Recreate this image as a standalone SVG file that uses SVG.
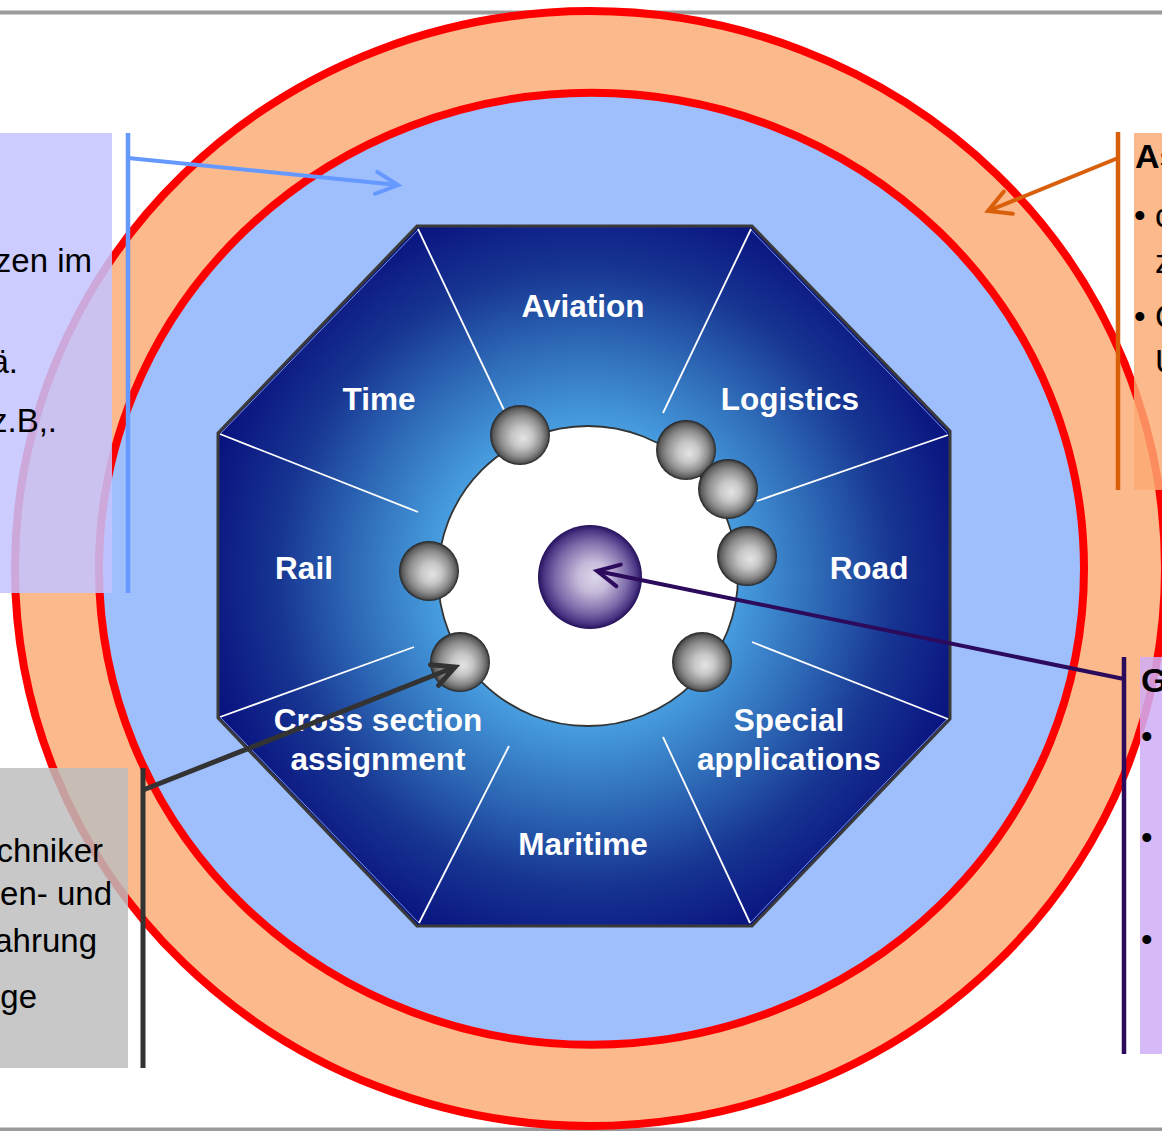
<svg xmlns="http://www.w3.org/2000/svg" width="1162" height="1131" viewBox="0 0 1162 1131">
<style>
.lbl{font-family:"Liberation Sans",Arial,sans-serif;font-weight:bold;font-size:31.5px;fill:#ffffff;text-anchor:middle}
.txt{font-family:"Liberation Sans",Arial,sans-serif;font-size:33px;fill:#000000}
.hd{font-family:"Liberation Sans",Arial,sans-serif;font-size:34px;font-weight:bold;fill:#000000}
.div{stroke:#ffffff;stroke-width:1.8;fill:none}
.ball{fill:url(#gBall)}
.conn{fill:none;stroke-linecap:butt}
</style>
<defs>
<radialGradient id="gOct" gradientUnits="userSpaceOnUse" cx="586" cy="576" r="395">
<stop offset="0" stop-color="#5aaee8"/>
<stop offset="0.38" stop-color="#479ddf"/>
<stop offset="0.58" stop-color="#2f6cb8"/>
<stop offset="0.78" stop-color="#173592"/>
<stop offset="1" stop-color="#08107e"/>
</radialGradient>
<radialGradient id="gBall" cx="0.5" cy="0.5" r="0.5" fx="0.56" fy="0.56">
<stop offset="0" stop-color="#e4e4e4"/>
<stop offset="0.35" stop-color="#c6c6c6"/>
<stop offset="0.7" stop-color="#8c8c8c"/>
<stop offset="0.9" stop-color="#5c5c5c"/>
<stop offset="1" stop-color="#222222"/>
</radialGradient>
<radialGradient id="gCore" cx="0.5" cy="0.5" r="0.5" fx="0.55" fy="0.5">
<stop offset="0" stop-color="#dcd6ea"/>
<stop offset="0.3" stop-color="#c6bada"/>
<stop offset="0.7" stop-color="#7a68a8"/>
<stop offset="0.9" stop-color="#483482"/>
<stop offset="1" stop-color="#24105a"/>
</radialGradient>
<marker id="aBlue" markerUnits="userSpaceOnUse" orient="auto" overflow="visible" markerWidth="1" markerHeight="1" refX="0" refY="0">
<path d="M-22,-11 L0,0 L-22,11" fill="none" stroke="#6699ff" stroke-width="4" stroke-linecap="round"/>
</marker>
<marker id="aOrange" markerUnits="userSpaceOnUse" orient="auto" overflow="visible" markerWidth="1" markerHeight="1" refX="0" refY="0">
<path d="M-22,-12 L0,0 L-22,12" fill="none" stroke="#d95f0a" stroke-width="4" stroke-linecap="round"/>
</marker>
<marker id="aPurple" markerUnits="userSpaceOnUse" orient="auto" overflow="visible" markerWidth="1" markerHeight="1" refX="0" refY="0">
<path d="M-22,-11 L0,0 L-22,11" fill="none" stroke="#2c0a5c" stroke-width="4" stroke-linecap="round"/>
</marker>
<marker id="aGray" markerUnits="userSpaceOnUse" orient="auto" overflow="visible" markerWidth="1" markerHeight="1" refX="0" refY="0">
<path d="M-22,-11 L0,0 L-22,11" fill="none" stroke="#333333" stroke-width="5" stroke-linecap="round"/>
</marker>
</defs>
<rect width="1162" height="1131" fill="#ffffff"/>
<g id="frame">
<rect x="0" y="10.5" width="1162" height="4" fill="#9a9a9a"/>
<rect x="0" y="1127.5" width="1162" height="4" fill="#9a9a9a"/>
</g>
<g id="rings">
<ellipse id="outer-ring" cx="590" cy="568.5" rx="575" ry="557.5" fill="#fcb98b" stroke="#ff0000" stroke-width="8"/>
<ellipse id="inner-ring" cx="591.5" cy="568.75" rx="492.5" ry="476" fill="#9fbffc" stroke="#ff0000" stroke-width="8"/>
</g>
<g id="octagon">
<polygon points="417,226 752,226 950,431 950,719 752,926 417,926 218,718 218,433" fill="url(#gOct)" stroke="#3a3a3a" stroke-width="3" stroke-linejoin="miter"/>
<polyline points="221,433 419,229" fill="none" stroke="#a8c4ff" stroke-width="1" opacity="0.7"/>
<polyline points="750,229 947,433" fill="none" stroke="#a8c4ff" stroke-width="1" opacity="0.7"/>
<polyline points="221,718 419,923" fill="none" stroke="#a8c4ff" stroke-width="1" opacity="0.7"/>
<polyline points="947,719 750,923" fill="none" stroke="#a8c4ff" stroke-width="1" opacity="0.7"/>
<line class="div" x1="418" y1="229" x2="504" y2="410"/>
<line class="div" x1="751" y1="229" x2="663" y2="413"/>
<line class="div" x1="948" y1="435" x2="757" y2="501"/>
<line class="div" x1="220" y1="434" x2="418" y2="512"/>
<line class="div" x1="220" y1="717" x2="414" y2="647"/>
<line class="div" x1="948" y1="719" x2="752" y2="642"/>
<line class="div" x1="419" y1="923" x2="509" y2="746"/>
<line class="div" x1="750" y1="923" x2="663" y2="737"/>
</g>
<g id="sector-aviation"><text class="lbl" x="583" y="317">Aviation</text></g>
<g id="sector-time"><text class="lbl" x="379" y="410">Time</text></g>
<g id="sector-logistics"><text class="lbl" x="790" y="410">Logistics</text></g>
<g id="sector-rail"><text class="lbl" x="304" y="579">Rail</text></g>
<g id="sector-road"><text class="lbl" x="869" y="579">Road</text></g>
<g id="sector-cross-section"><text class="lbl" x="378" y="731">Cross section</text><text class="lbl" x="378" y="770">assignment</text></g>
<g id="sector-special"><text class="lbl" x="789" y="731">Special</text><text class="lbl" x="789" y="770">applications</text></g>
<g id="sector-maritime"><text class="lbl" x="583" y="855">Maritime</text></g>
<g id="hub">
<circle cx="588" cy="576" r="150" fill="#ffffff" stroke="#333333" stroke-width="1.8"/>
</g>
<g id="core"><circle cx="590" cy="577" r="52" fill="url(#gCore)"/></g>
<g id="ball-1"><circle class="ball" cx="520" cy="435" r="30"/></g>
<g id="ball-2"><circle class="ball" cx="686" cy="450" r="30"/></g>
<g id="ball-3"><circle class="ball" cx="728" cy="489" r="30"/></g>
<g id="ball-4"><circle class="ball" cx="747" cy="556" r="30"/></g>
<g id="ball-5"><circle class="ball" cx="429" cy="571" r="30"/></g>
<g id="ball-6"><circle class="ball" cx="460" cy="662" r="30"/></g>
<g id="ball-7"><circle class="ball" cx="702" cy="662" r="30"/></g>
<g id="box-left-top">
<rect x="0" y="133" width="112" height="460" fill="#c4c4ff" opacity="0.86"/>
<text class="txt" x="92" y="272" text-anchor="end">zen im</text>
<text class="txt" x="18" y="373" text-anchor="end">ä.</text>
<text class="txt" x="57" y="432" text-anchor="end">z.B,.</text>
</g>
<g id="box-right-top">
<rect x="1134" y="133" width="28" height="357" fill="#fbab73" opacity="0.82"/>
<text class="hd" x="1135" y="168">As</text>
<text class="txt" x="1134" y="227">•</text>
<text class="txt" x="1155" y="227">c</text>
<text class="txt" x="1155" y="273">z</text>
<text class="txt" x="1134" y="328">•</text>
<text class="txt" x="1155" y="328">C</text>
<text class="txt" x="1155" y="373">U</text>
</g>
<g id="box-right-bottom">
<rect x="1140" y="657" width="22" height="397" fill="#cfaef6" opacity="0.86"/>
<text class="hd" x="1141" y="692">G</text>
<text class="txt" x="1141" y="748">•</text>
<text class="txt" x="1141" y="849">•</text>
<text class="txt" x="1141" y="951">•</text>
</g>
<g id="box-left-bottom">
<rect x="0" y="768" width="128" height="300" fill="#bebebe" opacity="0.84"/>
<text class="txt" x="103" y="862" text-anchor="end">chniker</text>
<text class="txt" x="112" y="905" text-anchor="end">en- und</text>
<text class="txt" x="97" y="952" text-anchor="end">ahrung</text>
<text class="txt" x="37" y="1008" text-anchor="end">ge</text>
</g>
<g id="connectors">
<line class="conn" x1="128" y1="133" x2="128" y2="593" stroke="#6699ff" stroke-width="4.5"/>
<line class="conn" x1="128" y1="158" x2="398" y2="185" stroke="#6699ff" stroke-width="4" marker-end="url(#aBlue)"/>
<line class="conn" x1="1118" y1="132" x2="1118" y2="490" stroke="#d95f0a" stroke-width="4.5"/>
<line class="conn" x1="1118" y1="158" x2="988" y2="211" stroke="#d95f0a" stroke-width="4" marker-end="url(#aOrange)"/>
<line class="conn" x1="1124" y1="657" x2="1124" y2="1054" stroke="#2c0a5c" stroke-width="4.5"/>
<line class="conn" x1="1124" y1="679" x2="597" y2="571" stroke="#2c0a5c" stroke-width="4" marker-end="url(#aPurple)"/>
<line class="conn" x1="143" y1="768" x2="143" y2="1068" stroke="#333333" stroke-width="5"/>
<line class="conn" x1="143" y1="790" x2="455" y2="667" stroke="#333333" stroke-width="5" marker-end="url(#aGray)"/>
</g>
</svg>
